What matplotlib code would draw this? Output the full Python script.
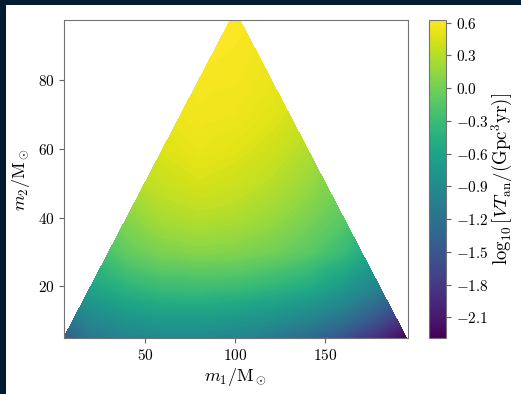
import numpy as np
import matplotlib
matplotlib.use("Agg")
import matplotlib.pyplot as plt
import matplotlib.tri as mtri
from matplotlib.patches import Rectangle

plt.rcParams['font.family'] = 'serif'
plt.rcParams['font.serif'] = ['cmr10', 'DejaVu Serif']
plt.rcParams['mathtext.fontset'] = 'cm'
plt.rcParams['axes.formatter.use_mathtext'] = True

# log10 VT, row by row in m2
# (first and last point of each row sit on the triangle edges)
m2_rows = [5, 10, 15, 20, 30, 40, 50, 60, 70, 80, 90, 97.5]
m1_by_row = [
    [5, 20, 40, 60, 80, 100, 120, 140, 160, 180, 195],
    [10, 20, 40, 60, 80, 100, 120, 140, 160, 180, 190],
    [15, 20, 40, 60, 80, 100, 120, 140, 160, 180, 185],
    [20, 40, 60, 80, 100, 120, 140, 160, 180],
    [30, 40, 60, 80, 100, 120, 140, 160, 170],
    [40, 60, 80, 100, 120, 140, 160],
    [50, 60, 80, 100, 120, 140, 150],
    [60, 80, 100, 120, 140],
    [70, 80, 100, 120, 130],
    [80, 100, 120],
    [90, 100, 110],
    [97.5, 102.5],
]
logvt_by_row = [
    [-1.45, -1.15, -0.98, -0.93, -0.93, -0.98, -1.1, -1.3, -1.58, -1.95, -2.28],
    [-1.15, -0.95, -0.8, -0.72, -0.72, -0.76, -0.86, -1.0, -1.25, -1.6, -1.85],
    [-0.85, -0.78, -0.6, -0.52, -0.5, -0.55, -0.63, -0.75, -0.95, -1.3, -1.45],
    [-0.6, -0.4, -0.3, -0.28, -0.3, -0.38, -0.5, -0.72, -1.02],
    [-0.2, -0.08, 0.05, 0.1, 0.07, 0.0, -0.12, -0.32, -0.48],
    [0.1, 0.25, 0.3, 0.27, 0.18, 0.05, -0.12],
    [0.33, 0.38, 0.44, 0.4, 0.31, 0.18, 0.08],
    [0.47, 0.53, 0.49, 0.41, 0.29],
    [0.55, 0.57, 0.55, 0.49, 0.44],
    [0.59, 0.58, 0.53],
    [0.61, 0.6, 0.58],
    [0.62, 0.61],
]
cbar_ticks = [-2.1, -1.8, -1.5, -1.2, -0.9, -0.6, -0.3, 0.0, 0.3, 0.6]
vmin, vmax = -2.29, 0.625

m1 = np.concatenate([np.array(r, float) for r in m1_by_row])
m2 = np.concatenate([np.full(len(r), y, float) for r, y in zip(m1_by_row, m2_rows)])
logvt = np.concatenate([np.array(v, float) for v in logvt_by_row])

fig = plt.figure(figsize=(5.21, 3.94), dpi=100, facecolor='#031b2e')
fig.patches.append(Rectangle((6 / 521, 0), 1, 1 - 5 / 394, transform=fig.transFigure,
                             facecolor='white', edgecolor='none', zorder=-10))

ax = fig.add_axes([64 / 521, 1 - 338 / 394, 344 / 521, 318 / 394])
cax = fig.add_axes([429 / 521, 1 - 338 / 394, 17 / 521, 318 / 394])

tri = mtri.Triangulation(m1, m2)
levels = np.linspace(vmin, vmax, 120)
tcf = ax.tricontourf(tri, logvt, levels=levels, cmap='viridis', vmin=vmin, vmax=vmax,
                     antialiased=False)
# seal the thin gaps between contour bands
tcf.set_edgecolor('face')
tcf.set_linewidth(0.3)

ax.set_xlim(5, 196)
ax.set_ylim(5, 97.5)
ax.set_xticks([50, 100, 150])
ax.set_yticks([20, 40, 60, 80])
ax.tick_params(labelsize=11, length=3.5, color='0.4')
for s in ax.spines.values():
    s.set_color('0.45')
ax.set_xlabel(r'$m_1/{\rm M}_\odot$', fontsize=13, labelpad=2)
ax.set_ylabel(r'$m_2/{\rm M}_\odot$', fontsize=13, labelpad=4)

sm = plt.cm.ScalarMappable(norm=plt.Normalize(vmin, vmax), cmap='viridis')
cb = fig.colorbar(sm, cax=cax, ticks=cbar_ticks)
cb.ax.tick_params(labelsize=11, length=3.5, color='0.4')
cb.outline.set_edgecolor('0.45')
cb.set_label(r'$\log_{10}[VT_{\rm an}/({\rm Gpc}^3{\rm yr})]$', fontsize=13.5, labelpad=1)

fig.savefig('out.png', dpi=100, facecolor=fig.get_facecolor())
